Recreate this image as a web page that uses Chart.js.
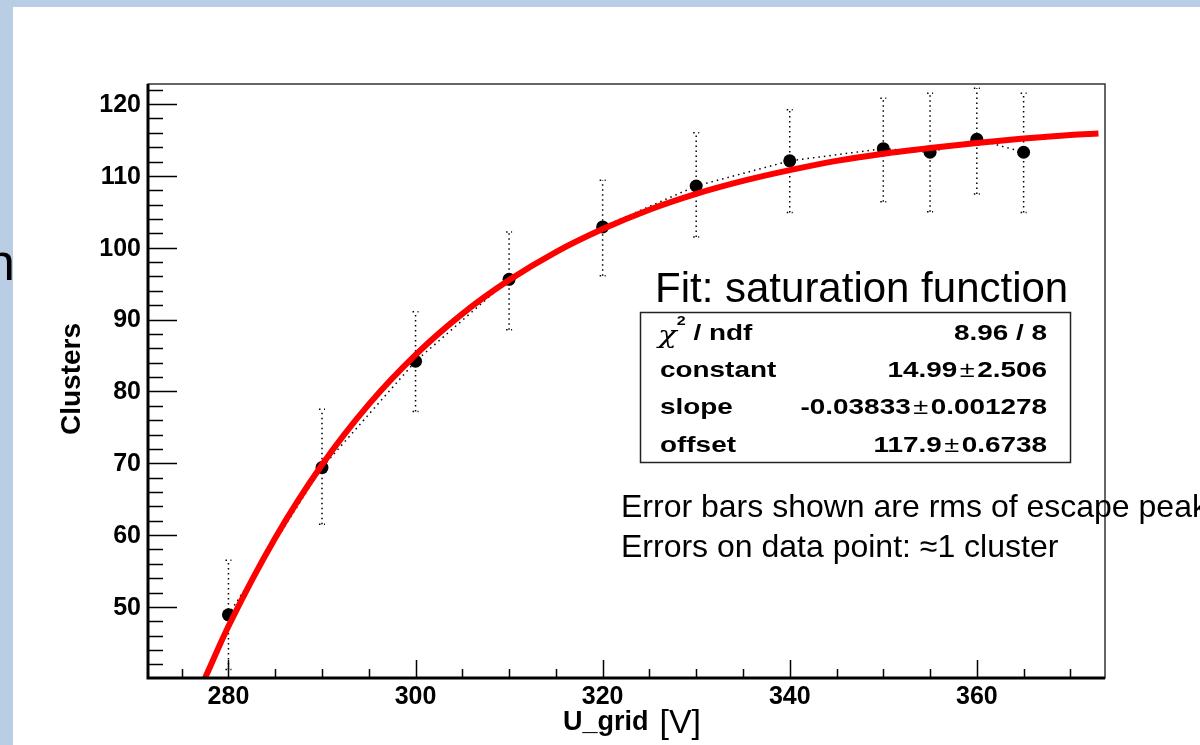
<!DOCTYPE html>
<html>
<head>
<meta charset="utf-8">
<script src="https://cdn.jsdelivr.net/npm/chart.js@4.4.0/dist/chart.umd.min.js"></script>
<style>
  html, body { margin: 0; padding: 0; background: #fff; }
  canvas { display: block; }
</style>
</head>
<body>
<canvas id="c" width="1200" height="745"></canvas>
<script>
// measured points: U_grid [V] vs clusters
const voltages = [280, 290, 300, 310, 320, 330, 340, 350, 355, 360, 365];
const clusters = [48.9, 69.4, 84.2, 95.6, 102.9, 108.6, 112.1, 113.8, 113.3, 115.1, 113.3];
// rms of escape peak (dotted error bars)
const errLow  = [41.3, 61.5, 77.2, 88.6, 96.1, 101.5, 104.9, 106.4, 105.0, 107.5, 104.9];
const errHigh = [56.5, 77.5, 91.1, 102.2, 109.4, 116.0, 119.2, 120.8, 121.5, 122.2, 121.5];

// red fit curve
const fitX = [277.5, 280, 285, 290, 295, 300, 305, 310, 315, 320, 325, 330, 335, 340, 345, 350, 355, 360, 365, 370, 373];
const fitY = [40.1, 47.3, 59.6, 69.8, 78.2, 85.1, 90.8, 95.5, 99.4, 102.6, 105.3, 107.5, 109.3, 110.8, 112.1, 113.1, 113.9, 114.6, 115.2, 115.7, 115.9];

const xTicks = [280, 300, 320, 340, 360];
const yTicks = [50, 60, 70, 80, 90, 100, 110, 120];

const statLabels = ['χ2 / ndf', 'constant', 'slope', 'offset'];
const statValues = ['8.96 / 8', '14.99 ± 2.506', '-0.03833 ± 0.001278', '117.9 ± 0.6738'];

const FONT = '"Liberation Sans", Arial, sans-serif';
const STRETCH = 1.24; // the stats box text is drawn wider than tall

// slide background: blue strip on the top and left
const backgroundPlugin = {
    id: 'slideBackground',
    beforeDraw: (chart) => {
        const ctx = chart.ctx;
        ctx.save();
        ctx.fillStyle = '#b9cde5';
        ctx.fillRect(0, 0, chart.width, chart.height);
        // leftover letter of the slide text behind the plot
        ctx.fillStyle = '#000';
        ctx.font = '52px ' + FONT;
        ctx.textBaseline = 'alphabetic';
        ctx.fillText('n', -14, 280);
        ctx.fillStyle = '#fff';
        ctx.fillRect(13, 7, chart.width - 13, chart.height - 7);
        ctx.restore();
    }
};

// dotted vertical error bars
const errorBarPlugin = {
    id: 'errorBars',
    beforeDatasetsDraw: (chart) => {
        const {ctx, chartArea, scales} = chart;
        ctx.save();
        ctx.beginPath();
        ctx.rect(chartArea.left, chartArea.top, chartArea.right - chartArea.left, chartArea.bottom - chartArea.top);
        ctx.clip();
        ctx.strokeStyle = '#000';
        ctx.lineWidth = 1.5;
        ctx.setLineDash([1.5, 3.5]);
        voltages.forEach((v, i) => {
            const x = scales.x.getPixelForValue(v);
            const y1 = scales.y.getPixelForValue(errLow[i]);
            const y2 = scales.y.getPixelForValue(errHigh[i]);
            ctx.beginPath();
            ctx.moveTo(x, y1);
            ctx.lineTo(x, y2);
            ctx.stroke();
            ctx.beginPath();
            ctx.moveTo(x - 3, y1); ctx.lineTo(x + 3, y1);
            ctx.moveTo(x - 3, y2); ctx.lineTo(x + 3, y2);
            ctx.stroke();
        });
        ctx.restore();
    }
};

// ROOT style frame with ticks pointing inwards
const axesPlugin = {
    id: 'rootAxes',
    afterDatasetsDraw: (chart) => {
        const {ctx, chartArea, scales} = chart;
        const {left, right, top, bottom} = chartArea;
        ctx.save();
        ctx.strokeStyle = '#333';
        ctx.lineWidth = 1.5;
        ctx.strokeRect(left, top, right - left, bottom - top);

        ctx.strokeStyle = '#000';
        ctx.lineWidth = 1.5;
        ctx.beginPath();
        for (let v = 275; v <= scales.x.max; v += 5) {
            const x = Math.round(scales.x.getPixelForValue(v)) + 0.5;
            const len = (v % 20 === 0) ? 18 : 9;
            ctx.moveTo(x, bottom);
            ctx.lineTo(x, bottom - len);
        }
        for (let v = 42; v <= scales.y.max; v += 2) {
            const y = Math.round(scales.y.getPixelForValue(v)) + 0.5;
            const len = (v % 10 === 0) ? 29 : 15;
            ctx.moveTo(left, y);
            ctx.lineTo(left + len, y);
        }
        ctx.stroke();

        ctx.lineWidth = 3;
        ctx.beginPath();
        ctx.moveTo(left, top);
        ctx.lineTo(left, bottom);
        ctx.lineTo(right, bottom);
        ctx.stroke();

        ctx.fillStyle = '#000';
        ctx.font = 'bold 25px ' + FONT;
        ctx.textAlign = 'right';
        ctx.textBaseline = 'middle';
        yTicks.forEach(v => ctx.fillText(String(v), left - 7, scales.y.getPixelForValue(v) + 1));
        ctx.textAlign = 'center';
        ctx.textBaseline = 'top';
        xTicks.forEach(v => ctx.fillText(String(v), scales.x.getPixelForValue(v), bottom + 7));

        // axis titles
        ctx.save();
        ctx.translate(80, 379);
        ctx.rotate(-Math.PI / 2);
        ctx.textAlign = 'center';
        ctx.textBaseline = 'alphabetic';
        ctx.font = 'bold 28px ' + FONT;
        ctx.fillText('Clusters', 0, 0);
        ctx.restore();

        ctx.textAlign = 'left';
        ctx.textBaseline = 'alphabetic';
        const part1 = 'U_grid';
        ctx.font = 'bold 27px ' + FONT;
        const w1 = ctx.measureText(part1).width + 11;
        ctx.font = '34px ' + FONT;
        const w2 = ctx.measureText('[V]').width;
        const x0 = 632 - (w1 + w2) / 2;
        ctx.font = 'bold 27px ' + FONT;
        ctx.fillText(part1, x0, 730);
        ctx.font = '34px ' + FONT;
        ctx.fillText('[V]', x0 + w1, 733);
        ctx.restore();
    }
};

// draw a row of text pieces, stretched horizontally, aligned at x
function drawRun(ctx, pieces, x, y, align) {
    const widths = pieces.map(p => { ctx.font = p.font; return ctx.measureText(p.text).width * STRETCH + (p.gap || 0); });
    const total = widths.reduce((a, b) => a + b, 0);
    let cx = align === 'right' ? x - total : x;
    pieces.forEach((p, i) => {
        ctx.save();
        ctx.font = p.font;
        ctx.textAlign = 'left';
        ctx.translate(cx + (p.gap || 0) / 2, y + (p.dy || 0));
        ctx.scale(STRETCH, 1);
        ctx.fillText(p.text, 0, 0);
        ctx.restore();
        cx += widths[i];
    });
}

// fit title, statistics box and notes
const textPlugin = {
    id: 'notes',
    afterDraw: (chart) => {
        const ctx = chart.ctx;
        ctx.save();
        ctx.fillStyle = '#000';
        ctx.textBaseline = 'alphabetic';
        ctx.font = '42px ' + FONT;
        ctx.textAlign = 'left';
        ctx.fillText('Fit: saturation function', 655, 302);

        ctx.fillStyle = '#fff';
        ctx.fillRect(640, 312, 431, 151);
        ctx.strokeStyle = '#222';
        ctx.lineWidth = 1.5;
        ctx.strokeRect(640.5, 312.5, 430, 150);

        ctx.fillStyle = '#000';
        const bold = 'bold 22.5px ' + FONT;
        const rowY = [340, 377, 414, 452];
        statLabels.forEach((lab, i) => {
            if (lab.startsWith('χ')) {
                drawRun(ctx, [
                    {text: 'χ', font: 'italic 25px "DejaVu Serif", serif', dy: 3},
                    {text: '2', font: 'bold 13px ' + FONT, dy: -15},
                    {text: lab.slice(2), font: bold}
                ], 658, rowY[i], 'left');
            } else {
                drawRun(ctx, [{text: lab, font: bold}], 660, rowY[i], 'left');
            }
            const parts = statValues[i].split(' ± ');
            const pieces = [{text: parts[0], font: bold}];
            if (parts.length > 1) {
                pieces.push({text: '±', font: '22px ' + FONT, gap: 5});
                pieces.push({text: parts[1], font: bold});
            }
            drawRun(ctx, pieces, 1047, rowY[i], 'right');
        });

        ctx.textAlign = 'left';
        ctx.font = '32px ' + FONT;
        ctx.fillText('Error bars shown are rms of escape peak', 621, 517);
        ctx.fillText('Errors on data point: ≈1 cluster', 621, 557);
        ctx.restore();
    }
};

const ctx = document.getElementById('c').getContext('2d');
new Chart(ctx, {
    type: 'scatter',
    data: {
        datasets: [{
            label: 'fit',
            data: fitX.map((x, i) => ({x: x, y: fitY[i]})),
            showLine: true,
            borderColor: '#ff0000',
            borderWidth: 6,
            pointRadius: 0,
            cubicInterpolationMode: 'monotone',
            order: 0
        }, {
            label: 'Clusters',
            data: voltages.map((v, i) => ({x: v, y: clusters[i]})),
            showLine: true,
            borderColor: '#000',
            borderWidth: 1.5,
            borderDash: [1.5, 4],
            pointRadius: 6.5,
            pointBackgroundColor: '#000',
            pointBorderWidth: 0,
            order: 1
        }]
    },
    options: {
        responsive: false,
        animation: false,
        layout: { padding: { left: 148, top: 84, right: 95, bottom: 67 } },
        scales: {
            x: { type: 'linear', min: 271.4, max: 373.7, display: false },
            y: { type: 'linear', min: 40.1, max: 122.8, display: false }
        },
        plugins: {
            legend: { display: false },
            tooltip: { enabled: false }
        }
    },
    plugins: [backgroundPlugin, errorBarPlugin, axesPlugin, textPlugin]
});
</script>
</body>
</html>
